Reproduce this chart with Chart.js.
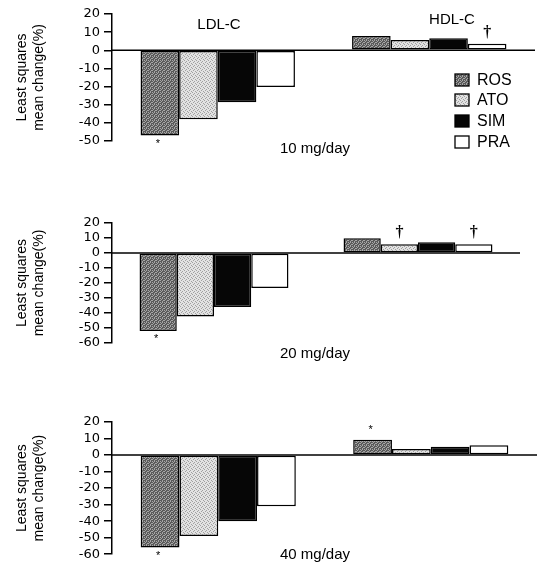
<!DOCTYPE html>
<html>
<head>
<meta charset="utf-8">
<script src="https://cdn.jsdelivr.net/npm/chart.js@4.4.0/dist/chart.umd.min.js"></script>
<style>
    html, body { margin: 0; padding: 0; background: #fff; }
    #wrap { position: relative; width: 538px; height: 566px; overflow: hidden; }
    .panel { position: absolute; left: 0; width: 538px; }
</style>
</head>
<body>
<div id="wrap">
    <div class="panel" style="top:0;height:190px"><canvas id="chart10"></canvas></div>
    <div class="panel" style="top:190px;height:195px"><canvas id="chart20"></canvas></div>
    <div class="panel" style="top:385px;height:181px"><canvas id="chart40"></canvas></div>
</div>
<script>
const categories = ['LDL-C', 'HDL-C'];
const drugs = ['ROS', 'ATO', 'SIM', 'PRA'];
const doseLabels = ['10 mg/day', '20 mg/day', '40 mg/day'];

// least squares mean change (%), one value per drug (ROS, ATO, SIM, PRA)
const ldl10 = [-47, -38, -28.6, -20.3];
const hdl10 = [7.9, 5.7, 6.6, 3.6];
const ldl20 = [-52, -42.3, -36, -23.4];
const hdl20 = [9.8, 5.8, 7.1, 5.8];
const ldl40 = [-56, -49, -40, -31];
const hdl40 = [9.2, 3.6, 5.0, 6.0];

// significance marks per drug
const ldlMarks10 = ['*', '', '', ''];
const hdlMarks10 = ['', '', '', '†'];
const ldlMarks20 = ['*', '', '', ''];
const hdlMarks20 = ['', '†', '', '†'];
const ldlMarks40 = ['*', '', '', ''];
const hdlMarks40 = ['*', '', '', ''];

const yTicks = { max: 20, step: 10 };
const yMins = [-50, -60, -60];

// 4x4 dither masks for the scanned-looking fills
function makePattern(base, dot, mask) {
    const c = document.createElement('canvas');
    c.width = 4; c.height = 4;
    const g = c.getContext('2d');
    g.fillStyle = base;
    g.fillRect(0, 0, 4, 4);
    g.fillStyle = dot;
    mask.forEach(([x, y]) => g.fillRect(x, y, 1, 1));
    return g.createPattern(c, 'repeat');
}

const fills = [
    makePattern('#5a5a5a', '#a6a6a6', [[0, 0], [2, 0], [1, 1], [3, 2], [0, 2], [2, 3]]),
    makePattern('#e2e2e2', '#a0a0a0', [[0, 0], [2, 1], [1, 2], [3, 3]]),
    '#060606',
    '#ffffff'
];

const overlay = {
    id: 'overlay',
    afterDatasetsDraw(chart, args, opts) {
        const ctx = chart.ctx;
        const area = chart.chartArea;
        const y0 = chart.scales.y.getPixelForValue(0);
        ctx.save();

        // zero line
        ctx.strokeStyle = '#000';
        ctx.lineWidth = 1.5;
        ctx.beginPath();
        ctx.moveTo(area.left, y0);
        ctx.lineTo(area.right, y0);
        ctx.stroke();

        // significance marks
        ctx.fillStyle = '#000';
        ctx.textAlign = 'center';
        ctx.textBaseline = 'middle';
        opts.marks.forEach((row, j) => {
            row.forEach((m, i) => {
                if (!m) return;
                const bar = chart.getDatasetMeta(i).data[j];
                const v = chart.data.datasets[i].data[j];
                if (m === '†') {
                    ctx.font = 'bold 16px "Liberation Serif"';
                    ctx.fillText(m, bar.x, bar.y - 11);
                } else {
                    ctx.font = '11px "Liberation Sans"';
                    ctx.fillText(m, bar.x - 2, v < 0 ? bar.y + 8 : bar.y - 10);
                }
            });
        });

        // dose label
        ctx.textAlign = 'left';
        ctx.font = '15px "Liberation Sans"';
        ctx.fillText(opts.dose, 280, opts.doseY);

        if (opts.headers) {
            ctx.font = '15px "Liberation Sans"';
            ctx.textAlign = 'center';
            ctx.fillText(categories[0], 219, 25);
            ctx.fillText(categories[1], 452, 20);

            // legend
            const rows = [80, 100, 121, 142];
            chart.data.datasets.forEach((ds, i) => {
                ctx.fillStyle = ds.backgroundColor;
                ctx.fillRect(455, rows[i] - 6, 14, 12);
                ctx.strokeStyle = '#000';
                ctx.lineWidth = 1.3;
                ctx.strokeRect(455, rows[i] - 6, 14, 12);
                ctx.fillStyle = '#000';
                ctx.textAlign = 'left';
                ctx.font = '16px "Liberation Sans"';
                ctx.fillText(ds.label, 477, rows[i] + 1);
            });
        }
        ctx.restore();
    }
};

function buildChart(id, ldl, hdl, ldlMarks, hdlMarks, yMin, pad, dose, doseY, headers) {
    const datasets = drugs.map((d, i) => ({
        label: d,
        data: [ldl[i], hdl[i]],
        backgroundColor: fills[i],
        borderColor: '#000',
        borderWidth: 1.5,
        borderSkipped: false,
        categoryPercentage: 0.73,
        barPercentage: 1.0
    }));

    return new Chart(document.getElementById(id), {
        type: 'bar',
        data: { labels: categories, datasets: datasets },
        options: {
            responsive: true,
            maintainAspectRatio: false,
            animation: false,
            layout: { padding: pad },
            plugins: {
                legend: { display: false },
                tooltip: { enabled: false },
                overlay: {
                    marks: [ldlMarks, hdlMarks],
                    dose: dose,
                    doseY: doseY,
                    headers: headers
                }
            },
            scales: {
                x: { display: false },
                y: {
                    min: yMin,
                    max: yTicks.max,
                    ticks: {
                        stepSize: yTicks.step,
                        autoSkip: false,
                        color: '#000',
                        padding: 4,
                        font: { family: 'DejaVu Sans', size: 13 }
                    },
                    grid: {
                        drawOnChartArea: false,
                        drawTicks: true,
                        tickLength: 8,
                        color: '#000',
                        lineWidth: 1.5
                    },
                    border: { display: true, color: '#000', width: 1.5 },
                    title: {
                        display: true,
                        text: ['Least squares', 'mean change(%)'],
                        color: '#000',
                        font: { family: 'Liberation Sans', size: 14 },
                        padding: { top: 14, bottom: 0 }
                    },
                    afterFit(scale) {
                        scale.width = 112;
                    }
                }
            }
        },
        plugins: [overlay]
    });
}

buildChart('chart10', ldl10, hdl10, ldlMarks10, hdlMarks10, yMins[0],
    { top: 14, bottom: 49, left: 0, right: 3 }, doseLabels[0], 149, true);
buildChart('chart20', ldl20, hdl20, ldlMarks20, hdlMarks20, yMins[1],
    { top: 33, bottom: 42, left: 0, right: 18 }, doseLabels[1], 164, false);
buildChart('chart40', ldl40, hdl40, ldlMarks40, hdlMarks40, yMins[2],
    { top: 37, bottom: 10, left: 0, right: 1 }, doseLabels[2], 170, false);
</script>
</body>
</html>
